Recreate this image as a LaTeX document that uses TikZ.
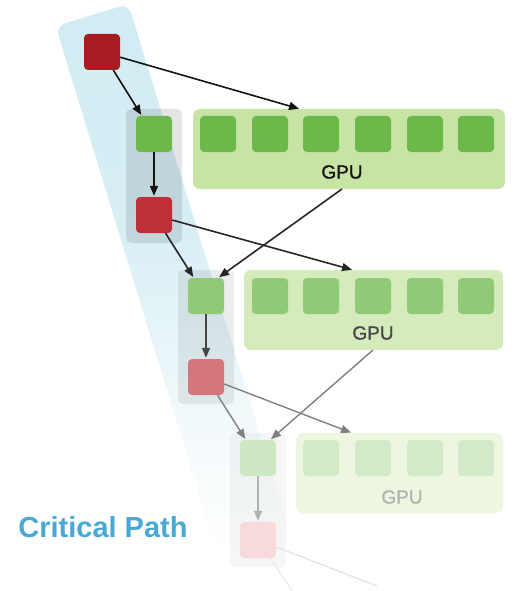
\documentclass[tikz,border=0pt]{standalone}
\usepackage{fontspec}
\setmainfont{Liberation Sans}
\newfontfamily\gpufont[FakeBold=1.2]{Liberation Sans}
\usepackage{xcolor}
\usepackage{tikz}
\usetikzlibrary{arrows.meta}
\definecolor{taskred}{RGB}{166,28,33}
\definecolor{taskredb}{RGB}{189,48,54}
\definecolor{taskredc}{RGB}{212,118,122}
\definecolor{taskredd}{RGB}{246,218,220}
\definecolor{taskgreen}{RGB}{108,184,74}
\definecolor{gpugreen}{RGB}{199,228,165}
\definecolor{pathblue}{RGB}{210,236,243}
\definecolor{labelblue}{RGB}{74,168,212}
\pgfdeclareverticalshading{pathfade}{100bp}{color(0bp)=(white); color(30bp)=(white); color(40bp)=(pathblue!25!white); color(48bp)=(pathblue!55!white); color(58bp)=(pathblue!90!white); color(75bp)=(pathblue); color(100bp)=(pathblue)}
\tikzstyle{task}=[rectangle, rounded corners=4pt, minimum size=36pt, inner sep=0pt]
\tikzstyle{gpu box}=[rectangle, rounded corners=7pt, inner sep=0pt]
\tikzstyle{lane}=[rectangle, rounded corners=5pt, inner sep=0pt, fill=black]
\tikzstyle{gpu label}=[font=\gpufont\fontsize{19}{19}\selectfont]
\tikzstyle{basic arrow}=[-{Triangle[length=10pt,width=8pt]}, line width=1.6pt, shorten >=1pt]

\begin{document}
\begin{tikzpicture}[x=1pt, y=-1pt]
		\useasboundingbox (0,0) rectangle (521,591);

		% critical path band
		\begin{scope}[shift={(92,15)}, rotate=17]
			\shade [shading=pathfade, rounded corners=10pt] (-38,0) rectangle (38,620);
		\end{scope}

		% lanes
		\node [lane, fill opacity=0.1, minimum width=56pt, minimum height=134pt] (1l) at (154,176) {};
		\node [lane, fill opacity=0.07, minimum width=56pt, minimum height=134pt] (3l) at (206,337) {};
		\node [lane, fill opacity=0.035, minimum width=56pt, minimum height=134pt] (5l) at (258,500) {};

		% tasks
		\node [task, fill=taskred]  (0) at (102, 52) {};
		\node [task, fill=taskgreen] (1) at (154, 134) {};
		\node [task, fill=taskredb] (2) at (154, 215) {};
		\node [task, fill=taskgreen!75!white] (3) at (206, 296) {};
		\node [task, fill=taskredc] (4) at (206, 377) {};
		\node [task, fill=taskgreen!33!white] (5) at (258, 458) {};
		\node [task, fill=taskredd] (6) at (258, 540) {};

		% gpus
		\node [gpu box, fill=gpugreen, minimum width=312pt, minimum height=80pt] (7) at (349, 149) {};
		\node [task, fill=taskgreen] (7a) at (218, 134) {};
		\node [task, fill=taskgreen] (7b) at (270, 134) {};
		\node [task, fill=taskgreen] (7c) at (321, 134) {};
		\node [task, fill=taskgreen] (7d) at (373, 134) {};
		\node [task, fill=taskgreen] (7e) at (425, 134) {};
		\node [task, fill=taskgreen] (7f) at (476, 134) {};
		\node [gpu label, text=black!92] (7l) at (342, 172) {GPU};

		\node [gpu box, fill=gpugreen!75!white, minimum width=259pt, minimum height=80pt] (8) at (373.5, 310) {};
		\node [task, fill=taskgreen!75!white] (8a) at (270, 296) {};
		\node [task, fill=taskgreen!75!white] (8b) at (321, 296) {};
		\node [task, fill=taskgreen!75!white] (8c) at (373, 296) {};
		\node [task, fill=taskgreen!75!white] (8d) at (425, 296) {};
		\node [task, fill=taskgreen!75!white] (8e) at (476, 296) {};
		\node [gpu label, text=black!72] (8l) at (373, 333) {GPU};

		\node [gpu box, fill=gpugreen!33!white, minimum width=207pt, minimum height=80pt] (9) at (399.5, 473) {};
		\node [task, fill=taskgreen!30!white] (9a) at (321, 458) {};
		\node [task, fill=taskgreen!30!white] (9b) at (373, 458) {};
		\node [task, fill=taskgreen!30!white] (9c) at (425, 458) {};
		\node [task, fill=taskgreen!30!white] (9d) at (476, 458) {};
		\node [gpu label, text=black!30] (9l) at (402, 497) {GPU};

		\node [font=\bfseries\fontsize{29}{29}\selectfont, text=labelblue] (10) at (103, 527) {Critical Path};

		\coordinate (7in) at (300, 109);
		\coordinate (7out) at (342, 189);
		\coordinate (8in) at (353, 270);
		\coordinate (8out) at (373, 350);
		\coordinate (9in) at (352, 433);
		\coordinate (6a) at (377, 586);
		\coordinate (6b) at (293, 592);

		\draw [style=basic arrow, draw=black!92] (0) to (7in);
		\draw [style=basic arrow, draw=black!92] (0) to ([xshift=6pt]1.north west);
		\draw [style=basic arrow, draw=black!92] (1) to (2);
		\draw [style=basic arrow, draw=black!85] (2) to ([xshift=6pt]3.north west);
		\draw [style=basic arrow, draw=black!85] (2) to (8in);
		\draw [style=basic arrow, draw=black!85] (7out) to ([xshift=-6pt]3.north east);
		\draw [style=basic arrow, draw=black!72, line width=1.4pt] (3) to (4);
		\draw [style=basic arrow, draw=black!50, line width=1.4pt] (4) to ([xshift=6pt]5.north west);
		\draw [style=basic arrow, draw=black!50, line width=1.4pt] (4) to (9in);
		\draw [style=basic arrow, draw=black!50, line width=1.4pt] (8out) to ([xshift=-6pt]5.north east);
		\draw [style=basic arrow, draw=black!30, line width=1.4pt] (5) to (6);
		\draw [draw=black!10, line width=1.4pt] (6) to (6a);
		\draw [draw=black!8, line width=1.4pt] (6) to (6b);

\end{tikzpicture}
\end{document}
